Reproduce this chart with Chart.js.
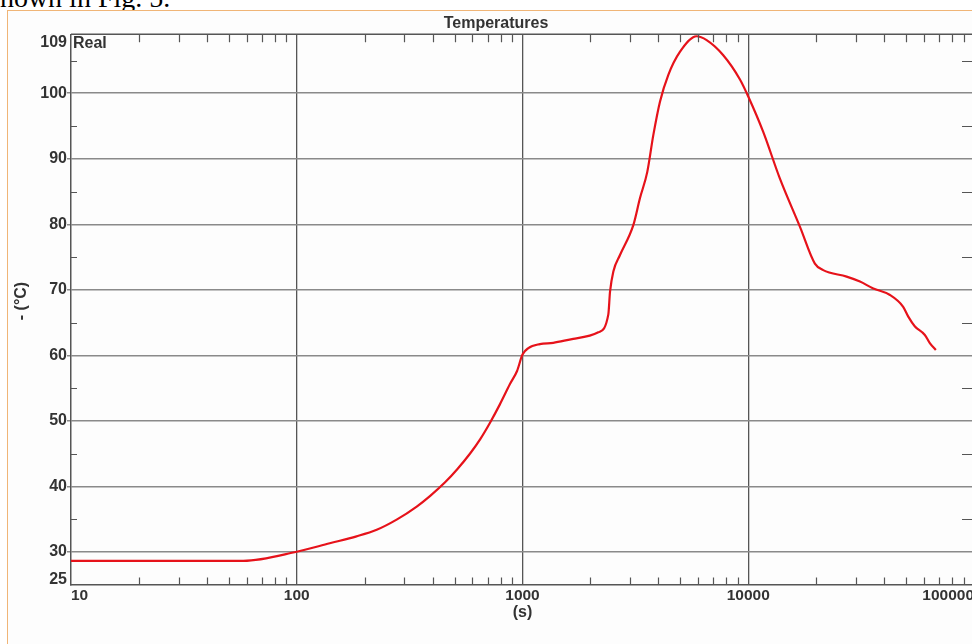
<!DOCTYPE html>
<html>
<head>
<meta charset="utf-8">
<title>Temperatures</title>
<script src="https://cdn.jsdelivr.net/npm/chart.js@4.4.0/dist/chart.umd.min.js"></script>
<style>
  html, body { margin: 0; padding: 0; background: #fff; }
  body { width: 972px; height: 644px; overflow: hidden; position: relative; }
  .caption {
    position: absolute; left: -11px; top: -16px;
    font: 28px/28px "Liberation Serif", "Times New Roman", serif;
    color: #000; white-space: nowrap;
  }
  .frame {
    position: absolute; left: 7px; top: 10px; width: 1000px; height: 700px;
    border: 1px solid #f0b577; background: #fdfdfd;
  }
  #chart { position: absolute; left: 0; top: 0; }
</style>
</head>
<body>
<div class="caption">shown in Fig. 5.</div>
<div class="frame"></div>
<canvas id="chart" width="992" height="644"></canvas>
<script>
// curve: time (s) and temperature (°C)
const times = [10, 58, 100, 140, 184, 226, 277, 340, 389, 454, 514, 586, 650, 718, 794,
  880, 946, 1000, 1062, 1194, 1368, 1678, 2167, 2399, 2442, 2526, 2703, 3099, 3315,
  3571, 3797, 4064, 4426, 4980, 5907, 6542, 7750, 9190, 10000, 11650, 13800, 16950,
  19730, 21480, 27270, 31250, 35800, 42450, 48560, 51150, 54750, 60580, 63730, 67750];
const temps = [28.6, 28.6, 30.0, 31.3, 32.35, 33.35, 34.9, 36.9, 38.5, 40.6, 42.6, 45.0,
  47.2, 49.7, 52.5, 55.6, 57.6, 60.1, 61.1, 61.7, 61.9, 62.5, 63.5, 66.2, 69.7, 72.8,
  75.3, 79.9, 84.0, 88.0, 93.6, 98.7, 102.8, 106.3, 108.7, 108.1, 105.8, 102.1, 99.5,
  94.1, 87.0, 79.6, 74.0, 73.0, 72.0, 71.25, 70.2, 69.2, 67.4, 65.9, 64.4, 63.1, 61.85,
  60.8];

const xTicks = [10, 100, 1000, 10000, 100000];
const yTicks = [25, 30, 40, 50, 60, 70, 80, 90, 100, 109];
const yMinor = [35, 45, 55, 65, 75, 85, 95, 105];
const xMinor = [];
xTicks.slice(0, -1).forEach(d => {
  for (let k = 2; k <= 9; k++) xMinor.push(d * k);
});

const chartTitle = 'Temperatures';
const seriesLabel = 'Real';
const xTitle = '(s)';
const yTitle = '- (°C)';

const FONT = '"Liberation Sans", Arial, sans-serif';
const TEXT = '#333';
const AXIS = '#555';

// frame lines, inner minor ticks and the labels that sit off their tick
const axisExtras = {
  id: 'axisExtras',
  afterDraw(chart) {
    const { ctx, chartArea: a, scales: { x, y } } = chart;
    ctx.save();
    ctx.strokeStyle = AXIS;
    ctx.lineWidth = 1.5;
    ctx.beginPath();
    ctx.moveTo(a.left, a.top);
    ctx.lineTo(a.right, a.top);
    ctx.lineTo(a.right, a.bottom);
    ctx.stroke();

    ctx.lineWidth = 1.2;
    ctx.beginPath();
    xMinor.forEach(v => {
      const px = Math.round(x.getPixelForValue(v)) + 0.5;
      ctx.moveTo(px, a.top);
      ctx.lineTo(px, a.top + 8);
      ctx.moveTo(px, a.bottom);
      ctx.lineTo(px, a.bottom - 7);
    });
    yMinor.forEach(v => {
      const py = Math.round(y.getPixelForValue(v)) + 0.5;
      ctx.moveTo(a.left, py);
      ctx.lineTo(a.left + 6, py);
      ctx.moveTo(a.right, py);
      ctx.lineTo(a.right - 12, py);
    });
    ctx.stroke();

    ctx.fillStyle = TEXT;
    ctx.font = 'bold 16px ' + FONT;
    ctx.textAlign = 'right';
    ctx.textBaseline = 'middle';
    yTicks.forEach((v, i) => {
      let py = y.getPixelForValue(v);
      if (i === yTicks.length - 1) py += 8;   // top label pushed inside
      if (i === 0) py -= 4.5;                 // bottom label pushed inside
      ctx.fillText(String(v), a.left - 4, py);
    });

    ctx.textAlign = 'center';
    ctx.fillText(chartTitle, chart.width / 2, 24);
    ctx.textAlign = 'left';
    ctx.fillText(seriesLabel, a.left + 2, 43.3);

    ctx.translate(21.5, 301);
    ctx.rotate(-Math.PI / 2);
    ctx.textAlign = 'center';
    ctx.fillText(yTitle, 0, 0);
    ctx.restore();
  }
};

const ctx = document.getElementById('chart').getContext('2d');

new Chart(ctx, {
  type: 'line',
  data: {
    datasets: [
      {
        label: seriesLabel,
        data: times.map((t, i) => ({ x: t, y: temps[i] })),
        borderColor: '#e6121a',
        borderWidth: 2.2,
        pointRadius: 0,
        cubicInterpolationMode: 'monotone',
        fill: false,
      },
    ],
  },
  options: {
    responsive: false,
    animation: false,
    layout: { padding: { left: 0, right: 18, top: 34.3, bottom: 0 } },
    scales: {
      x: {
        type: 'logarithmic',
        min: 10,
        max: 100000,
        afterBuildTicks: (scale) => {
          scale.ticks = xTicks.map(v => ({ value: v }));
        },
        afterFit: (scale) => {
          scale.height = 59.5;
        },
        grid: {
          color: (c) => (c.tick && c.tick.value > 10 && c.tick.value < 100000 ? AXIS : 'rgba(0,0,0,0)'),
          lineWidth: 1.3,
          drawTicks: false,
        },
        border: { color: AXIS, width: 1.5 },
        ticks: {
          autoSkip: false,
          maxRotation: 0,
          align: 'inner',
          padding: 2,
          color: TEXT,
          font: { family: FONT, size: 15.5, weight: 'bold' },
          callback: (value) => String(value),
        },
        title: {
          display: true,
          text: xTitle,
          color: TEXT,
          font: { family: FONT, size: 16, weight: 'bold' },
          padding: { top: 0, bottom: 21.4 },
        },
      },
      y: {
        type: 'linear',
        min: 25,
        max: 109,
        afterBuildTicks: (scale) => {
          scale.ticks = yTicks.map(v => ({ value: v }));
        },
        afterFit: (scale) => {
          scale.width = 71;
        },
        grid: {
          color: (c) => (c.tick && c.tick.value > 25 && c.tick.value < 109 ? '#8a8a8a' : 'rgba(0,0,0,0)'),
          lineWidth: 1.5,
          drawTicks: true,
          tickLength: 4,
        },
        border: { color: AXIS, width: 1.5 },
        ticks: { display: false },
      },
    },
    plugins: {
      legend: { display: false },
      title: { display: false },
      tooltip: { enabled: false },
    },
  },
  plugins: [axisExtras],
});
</script>
</body>
</html>
